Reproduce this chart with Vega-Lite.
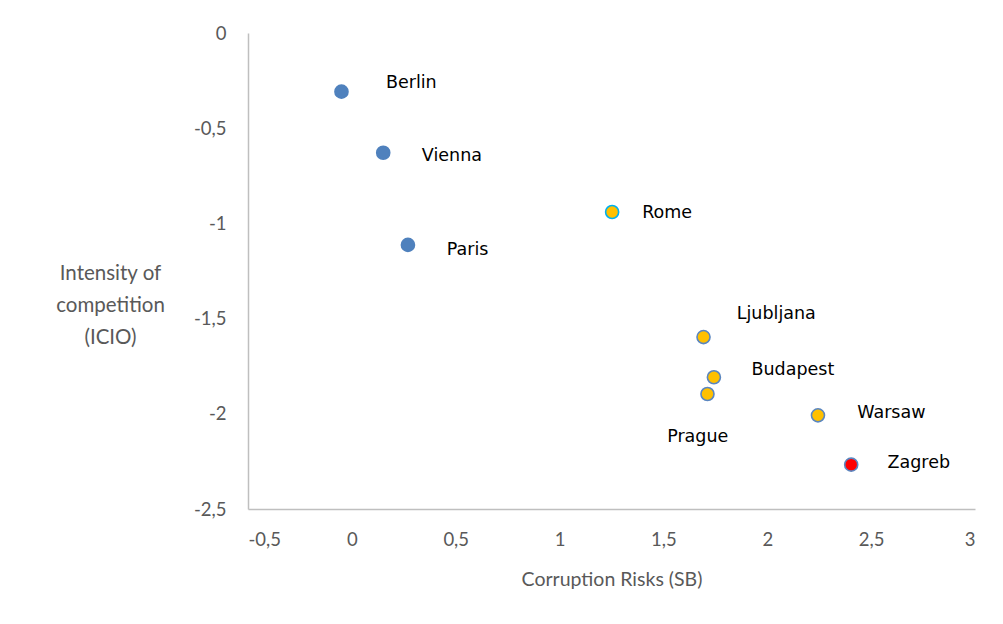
{
  "$schema": "https://vega.github.io/schema/vega-lite/v6.json",
  "width": 727,
  "height": 476,
  "autosize": "none",
  "padding": {"left": 248, "top": 33, "right": 28, "bottom": 115},
  "background": "white",
  "config": {
    "view": {"stroke": null},
    "axis": {
      "domainColor": "#BFBFBF",
      "domainWidth": 1.5,
      "grid": false,
      "ticks": false,
      "labelColor": "#595959",
      "titleColor": "#595959",
      "labelFont": "Lato",
      "titleFont": "Lato",
      "labelFontSize": 18.5,
      "titleFontWeight": "normal"
    }
  },
  "data": {
    "values": [
      {"city": "Berlin", "sb": -0.05, "icio": -0.308, "group": "West", "lx": 0.164, "ly": -0.26},
      {"city": "Vienna", "sb": 0.151, "icio": -0.629, "group": "West", "lx": 0.337, "ly": -0.646},
      {"city": "Paris", "sb": 0.27, "icio": -1.113, "group": "West", "lx": 0.457, "ly": -1.14},
      {"city": "Rome", "sb": 1.253, "icio": -0.94, "group": "Italy", "lx": 1.398, "ly": -0.944},
      {"city": "Ljubljana", "sb": 1.693, "icio": -1.597, "group": "CEE", "lx": 1.853, "ly": -1.476},
      {"city": "Budapest", "sb": 1.743, "icio": -1.808, "group": "CEE", "lx": 1.924, "ly": -1.77},
      {"city": "Prague", "sb": 1.712, "icio": -1.896, "group": "CEE", "lx": 1.518, "ly": -2.12},
      {"city": "Warsaw", "sb": 2.244, "icio": -2.008, "group": "CEE", "lx": 2.433, "ly": -1.994},
      {"city": "Zagreb", "sb": 2.404, "icio": -2.267, "group": "Croatia", "lx": 2.579, "ly": -2.257}
    ]
  },
  "encoding": {
    "x": {
      "type": "quantitative",
      "scale": {"domain": [-0.5, 3], "nice": false, "zero": false},
      "axis": {
        "title": "Corruption Risks (SB)",
        "titleFontSize": 19.5,
        "titlePadding": 22,
        "labelPadding": 21,
        "values": [-0.5, 0, 0.5, 1, 1.5, 2, 2.5, 3],
        "labelExpr": "replace(toString(datum.value), '.', ',')"
      }
    },
    "y": {
      "type": "quantitative",
      "scale": {"domain": [-2.5, 0], "nice": false, "zero": false},
      "axis": {
        "title": ["Intensity of", "competition", "(ICIO)"],
        "titleFontSize": 20.5,
        "titleAngle": 0,
        "titleAlign": "center",
        "titleBaseline": "middle",
        "titleLineHeight": 32,
        "titleX": -138,
        "titleY": 240,
        "labelPadding": 22,
        "values": [-2.5, -2, -1.5, -1, -0.5, 0],
        "labelExpr": "replace(toString(datum.value), '.', ',')"
      }
    }
  },
  "layer": [
    {
      "mark": {"type": "point", "shape": "circle", "filled": true, "size": 170, "strokeWidth": 1.6, "opacity": 1},
      "encoding": {
        "x": {"field": "sb"},
        "y": {"field": "icio"},
        "fill": {
          "field": "group",
          "type": "nominal",
          "scale": {"domain": ["West", "Italy", "CEE", "Croatia"], "range": ["#4F81BD", "#FFC000", "#FFC000", "#FF0000"]},
          "legend": null
        },
        "stroke": {
          "field": "group",
          "type": "nominal",
          "scale": {"domain": ["West", "Italy", "CEE", "Croatia"], "range": ["#4F81BD", "#00B0F0", "#5A86C0", "#5A86C0"]},
          "legend": null
        }
      }
    },
    {
      "mark": {"type": "text", "align": "left", "baseline": "middle", "font": "DejaVu Sans", "fontSize": 17.5, "color": "#000000"},
      "encoding": {
        "x": {"field": "lx"},
        "y": {"field": "ly"},
        "text": {"field": "city"}
      }
    }
  ]
}
